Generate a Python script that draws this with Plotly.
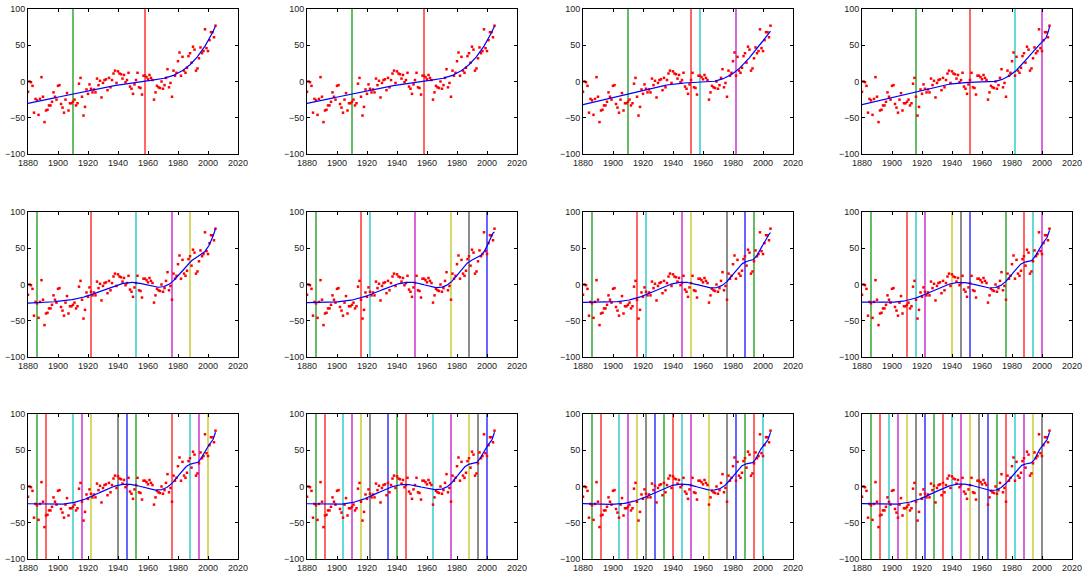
import numpy as np
import plotly.graph_objects as go

years = list(range(1880, 2006))
anomaly = [
    -14, 0, -1, -6, -43, -24, -26, -46, -24, 6,
    -21, -56, -40, -39, -33, -33, -28, -15, -21, -25,
    -6, -5, -31, -36, -43, -25, -16, -40, -30, -30,
    -28, -25, -33, -30, -3, 5, -21, -47, -35, -11,
    -17, -4, -10, -15, -11, -15, 4, -5, 1, -22,
    -2, 2, 3, -12, 5, -8, 2, 11, 15, -2,
    14, 11, 10, 4, 9, -1, 2, 12, -7, -10,
    -17, -4, 2, 12, -8, -9, -18, 8, 8, 6,
    3, 9, 5, 2, -25, -15, -6, -8, -9, 0,
    -10, -5, 5, 17, -8, -2, -21, 15, 8, 12,
    28, 40, 8, 34, 15, 12, 19, 35, 39, 26,
    48, 44, 15, 18, 32, 47, 39, 42, 72, 46,
    42, 57, 68, 68, 61, 77,
]

knots_1 = [1910, 1958]
knots_2 = [1910, 1958]
knots_3 = [1910, 1952, 1958, 1982]
knots_4 = [1916, 1952, 1982, 2000]
knots_5 = [1886, 1922, 1952, 1976, 1988]
knots_6 = [1886, 1916, 1922, 1952, 1976, 1988, 2000]
knots_7 = [1886, 1916, 1922, 1946, 1952, 1976, 1988, 1994]
knots_8 = [1886, 1910, 1916, 1922, 1940, 1946, 1952, 1976, 1988, 1994, 2000]
knots_9 = [1886, 1892, 1910, 1916, 1922, 1940, 1946, 1952, 1976, 1988, 1994, 2000]
knots_10 = [1886, 1892, 1904, 1910, 1916, 1922, 1934, 1940, 1946, 1964, 1976,
            1988, 1994, 2000]
knots_11 = [1886, 1892, 1904, 1910, 1916, 1922, 1928, 1934, 1940, 1946, 1952,
            1964, 1976, 1982, 1988, 1994, 2000]
knots_12 = [1886, 1892, 1898, 1904, 1910, 1916, 1922, 1928, 1934, 1940, 1946,
            1952, 1958, 1964, 1970, 1976, 1982, 1988, 1994, 2000]
knot_sets = [knots_1, knots_2, knots_3, knots_4, knots_5, knots_6,
             knots_7, knots_8, knots_9, knots_10, knots_11, knots_12]

x_ticks = [1880, 1900, 1920, 1940, 1960, 1980, 2000, 2020]
y_ticks = [-100, -50, 0, 50, 100]

knot_colors = ["#009000", "#ff0000", "#00bfbf", "#bf00bf", "#bfbf00",
               "#404040", "#0000ff"]

W, H = 1091, 580
col_left = [28, 307, 583, 862]
row_top = [9, 212, 414]
pw, ph = 210, 145
LAM = 1e-4

xa = np.array(years, dtype=float)
ya = np.array(anomaly, dtype=float)


def raw_basis(x, knots):
    # linear part plus truncated cubic terms at each knot (time in decades)
    t = (x - 1880.0) / 10.0
    cols = [np.ones_like(t), t]
    for k in knots:
        kt = (k - 1880.0) / 10.0
        cols.append(np.clip(t - kt, 0, None) ** 3)
    return np.column_stack(cols)


def fit_curve(knots, xe):
    B = raw_basis(xa, knots)
    scale = np.ones(B.shape[1])
    scale[2:] = np.linalg.norm(B[:, 2:], axis=0)
    Bn = B / scale
    P = np.eye(B.shape[1]) * LAM
    P[0, 0] = P[1, 1] = 0.0
    b = np.linalg.solve(Bn.T @ Bn + P, Bn.T @ ya)
    return (raw_basis(xe, knots) / scale) @ b


xf = np.linspace(1880, 2005, 501)

fig = go.Figure()
layout = dict(width=W, height=H, margin=dict(l=0, r=0, t=0, b=0),
              paper_bgcolor="white", plot_bgcolor="white", showlegend=False)

for i, knots in enumerate(knot_sets):
    r, c = divmod(i, 4)
    sfx = "" if i == 0 else str(i + 1)
    xref, yref = "x" + sfx, "y" + sfx
    for j, k in enumerate(knots):
        fig.add_trace(go.Scatter(x=[k, k], y=[-100, 100], mode="lines",
                                 line=dict(color=knot_colors[j % 7], width=1.2),
                                 xaxis=xref, yaxis=yref, hoverinfo="skip"))
    fig.add_trace(go.Scatter(x=years, y=anomaly, mode="markers",
                             marker=dict(color="red", size=2.5, symbol="square",
                                         line=dict(width=0)),
                             xaxis=xref, yaxis=yref))
    yf = fit_curve(knots, xf)
    fig.add_trace(go.Scatter(x=xf, y=yf, mode="lines",
                             line=dict(color="blue", width=1.2),
                             xaxis=xref, yaxis=yref))
    x0 = col_left[c] / W
    x1 = (col_left[c] + pw) / W
    y1 = 1 - row_top[r] / H
    y0 = 1 - (row_top[r] + ph) / H
    common = dict(showgrid=False, zeroline=False, showline=True, linecolor="black",
                  linewidth=1, mirror="allticks", ticks="inside", ticklen=3,
                  tickcolor="black", automargin=False,
                  tickfont=dict(family="Liberation Sans, Arial", size=9,
                                color="#222"))
    layout["xaxis" + sfx] = dict(domain=[x0, x1], range=[1880, 2020],
                                 tickvals=x_ticks, anchor=yref, **common)
    layout["yaxis" + sfx] = dict(domain=[y0, y1], range=[-100, 100],
                                 tickvals=y_ticks, anchor=xref, **common)

fig.update_layout(**layout)
fig.write_html("out.html", config={"displayModeBar": False},
               post_script="document.body.style.margin='0';"
                           "document.body.style.overflow='hidden';")
